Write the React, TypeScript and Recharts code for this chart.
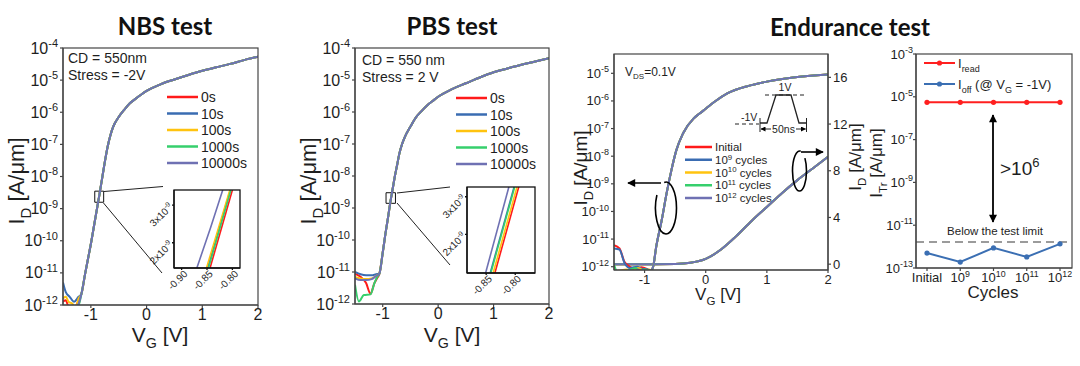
import React from "react";
import { LineChart, Line, XAxis, YAxis, ReferenceArea, ReferenceLine } from "recharts";

const FONT = "'Liberation Sans', Arial, sans-serif";
const TITLE_FONT = "Lato, 'Liberation Sans', sans-serif";
const INK = "#1e1e1e";
const FRAME = "#454545";

// ---- NBS / PBS stress: V_G [V] vs I_D [A/um] ----
const stressNames = ["0s", "10s", "100s", "1000s", "10000s"];
const stressColors = ["#ff1a1a", "#3a6cb2", "#ffc30f", "#36cf6c", "#6f71b3"];

const vgTicks = [-1, 0, 1, 2];
const mainDecades = [1e-12, 1e-11, 1e-10, 1e-9, 1e-8, 1e-7, 1e-6, 1e-5, 1e-4];

const nbsBody = [
  [-1.17, 2.2e-12], [-1.1, 1.0e-11], [-1.05, 2.8e-11], [-1.0, 7.9e-11], [-0.95, 2.5e-10],
  [-0.9, 7.9e-10], [-0.85, 2.5e-9], [-0.8, 8.3e-9], [-0.75, 2.8e-8], [-0.7, 8.3e-8],
  [-0.65, 1.9e-7], [-0.6, 3.5e-7], [-0.5, 7.1e-7], [-0.4, 1.2e-6], [-0.3, 1.9e-6],
  [-0.2, 2.6e-6], [-0.1, 3.5e-6], [0, 4.6e-6], [0.25, 7.4e-6], [0.5, 1.05e-5],
  [0.75, 1.45e-5], [1.0, 1.95e-5], [1.25, 2.5e-5], [1.5, 3.2e-5], [1.75, 4.2e-5], [2.0, 5.4e-5],
];
const nbsTails = [
  [[-1.5, 1.26e-12], [-1.45, 1.4e-12], [-1.4, 8.9e-13], [-1.3, 7.9e-13], [-1.22, 1.4e-12]],
  [[-1.5, 5.0e-12], [-1.45, 2.5e-12], [-1.38, 1.8e-12], [-1.3, 1.26e-12], [-1.22, 1.8e-12]],
  [[-1.5, 1.6e-12], [-1.45, 1.8e-12], [-1.4, 1.26e-12], [-1.33, 1.1e-12], [-1.28, 7e-13], [-1.22, 1.6e-12]],
  [[-1.5, 1.0e-12], [-1.42, 8e-13], [-1.32, 9e-13], [-1.25, 8e-13], [-1.2, 1.26e-12]],
  [[-1.5, 8e-13], [-1.4, 8e-13], [-1.3, 8e-13], [-1.22, 1.1e-12]],
];
const nbsZoomBox = [-0.93, -0.77, 1.58e-9, 3.5e-9];

const pbsBody = [
  [-1.06, 8.9e-12], [-1.0, 4.0e-11], [-0.95, 1.6e-10], [-0.9, 5.6e-10], [-0.86, 1.6e-9],
  [-0.82, 4.0e-9], [-0.78, 1.0e-8], [-0.74, 2.2e-8], [-0.7, 5.0e-8], [-0.65, 1.0e-7],
  [-0.6, 1.66e-7], [-0.5, 3.5e-7], [-0.4, 6.8e-7], [-0.3, 1.07e-6], [-0.2, 1.6e-6],
  [-0.1, 2.2e-6], [0, 3.0e-6], [0.25, 5.2e-6], [0.5, 7.9e-6], [0.75, 1.2e-5],
  [1.0, 1.74e-5], [1.25, 2.3e-5], [1.5, 3.0e-5], [1.75, 3.8e-5], [2.0, 4.8e-5],
];
const pbsTails = [
  [[-1.5, 8.9e-12], [-1.4, 7.1e-12], [-1.3, 4.5e-12], [-1.22, 2.1e-12], [-1.15, 4.5e-12], [-1.1, 6.5e-12]],
  [[-1.5, 1.0e-11], [-1.4, 8.5e-12], [-1.3, 7.9e-12], [-1.2, 7.9e-12], [-1.12, 8.5e-12]],
  [[-1.5, 7e-12], [-1.4, 6.3e-12], [-1.3, 6e-12], [-1.2, 6.3e-12], [-1.12, 7.5e-12]],
  [[-1.5, 4.0e-12], [-1.43, 1.2e-12], [-1.34, 1.9e-12], [-1.22, 2.0e-12], [-1.15, 4.5e-12], [-1.1, 7e-12]],
  [[-1.5, 6.3e-12], [-1.4, 5.6e-12], [-1.3, 5.6e-12], [-1.2, 6.0e-12], [-1.12, 7.5e-12]],
];
const pbsZoomBox = [-0.94, -0.77, 1.4e-9, 3.0e-9];

// insets (linear I_D)
const nbsInset = [
  [[-0.844, 1.33e-9], [-0.8, 3.4e-9]],
  [[-0.849, 1.33e-9], [-0.804, 3.4e-9]],
  [[-0.851, 1.33e-9], [-0.805, 3.4e-9]],
  [[-0.847, 1.33e-9], [-0.803, 3.4e-9]],
  [[-0.87, 1.33e-9], [-0.843, 2.4e-9], [-0.819, 3.4e-9]],
];
const nbsInsetX = [-0.9, -0.85, -0.8];
const pbsInset = [
  [[-0.835, 0.97e-9], [-0.794, 3.26e-9]],
  [[-0.843, 0.97e-9], [-0.802, 3.26e-9]],
  [[-0.838, 0.97e-9], [-0.797, 3.26e-9]],
  [[-0.842, 0.97e-9], [-0.801, 3.26e-9]],
  [[-0.851, 0.97e-9], [-0.811, 3.26e-9]],
];
const pbsInsetX = [-0.85, -0.8];
const insetY = [2e-9, 3e-9];

// ---- Endurance transfer curves ----
const cycleNames = ["Initial", "10^9 cycles", "10^10 cycles", "10^11 cycles", "10^12 cycles"];
const endDecades = [1e-12, 1e-11, 1e-10, 1e-9, 1e-8, 1e-7, 1e-6, 1e-5];
const endLinTicks = [0, 4, 8, 12, 16];
const endLogBody = [
  [-0.9, 7e-13], [-0.86, 1.0e-12], [-0.81, 5.2e-12], [-0.72, 4.8e-11], [-0.64, 4.5e-10],
  [-0.56, 3.2e-9], [-0.48, 1.66e-8], [-0.37, 6.8e-8], [-0.2, 2.3e-7], [-0.1, 3.5e-7],
  [0, 5.2e-7], [0.15, 9.5e-7], [0.36, 1.9e-6], [0.7, 3.5e-6], [1.0, 5.0e-6], [1.43, 7.1e-6], [2.0, 9.1e-6],
];
const endLogTails = [
  [[-1.5, 6.0e-12], [-1.41, 4.6e-12], [-1.33, 1.5e-12], [-1.24, 1.0e-12], [-1.15, 8e-13], [-1.05, 9.5e-13], [-0.95, 8e-13]],
  [[-1.5, 4.6e-12], [-1.41, 4.2e-12], [-1.33, 1.4e-12], [-1.24, 9e-13], [-1.12, 1.0e-12], [-1.05, 8.5e-13], [-0.95, 8e-13]],
  [[-1.5, 9e-13], [-1.45, 7e-13], [-1.3, 8e-13], [-1.2, 7e-13], [-1.1, 9e-13], [-1.0, 7e-13], [-0.92, 8e-13]],
  [[-1.5, 1.2e-12], [-1.45, 7e-13], [-1.3, 7e-13], [-1.15, 9e-13], [-1.08, 7e-13], [-1.0, 8e-13], [-0.92, 7.5e-13]],
  [[-1.5, 6e-13], [-1.2, 6e-13], [-1.1, 8e-13], [-1.0, 6e-13], [-0.92, 6e-13]],
];
// linear axis, uA/um
const endLinear = [
  [-1.5, 0], [-1.0, 0], [-0.5, 0.02], [-0.25, 0.12], [0, 0.45], [0.25, 1.25], [0.5, 2.4],
  [0.75, 3.7], [1.0, 4.9], [1.25, 6.1], [1.5, 7.2], [1.75, 8.2], [2.0, 9.2],
];

// ---- Endurance summary ----
const cycleTicks = ["Initial", "10^9", "10^10", "10^11", "10^12"];
const ireadVals = [5.5e-6, 5.5e-6, 5.5e-6, 5.5e-6, 5.5e-6];
const ioffVals = [5.0e-13, 1.9e-13, 8.7e-13, 3.3e-13, 1.35e-12];
const testLimit = 1.65e-12;
const sumDecades = [1e-13, 1e-11, 1e-9, 1e-7, 1e-5, 1e-3];
const RED = "#ff1f1f";
const BLUE = "#3b6fb3";

type Pt = { v: number; i: number };
type Box = { x: number; y: number; w: number; h: number };
const toPts = (a: number[][]): Pt[] => a.map(([v, i]) => ({ v, i }));

const nbsSeries = nbsTails.map((t) => toPts([...t, ...nbsBody]));
const pbsSeries = pbsTails.map((t) => toPts([...t, ...pbsBody]));
const endSeries = endLogTails.map((t) => toPts([...t, ...endLogBody]));
const endLinPts = toPts(endLinear);
const summaryRows = cycleTicks.map((c, k) => ({ cycle: c, iread: ireadVals[k], ioff: ioffVals[k] }));

// plot rectangles on the page
const NBS_BOX = { x: 63, y: 48, w: 195, h: 257 };
const PBS_BOX = { x: 355, y: 48, w: 194, h: 256 };
const NBS_INSET = { x: 174, y: 190, w: 66, h: 78 };
const PBS_INSET = { x: 467, y: 187, w: 68, h: 86 };
const END_BOX = { x: 614, y: 54, w: 214, h: 216 };
const SUM_BOX = { x: 916, y: 54, w: 156, h: 214 };

// "10^9 cycles" -> tspans with superscript
function supSpans(label: string, fs: number) {
  const m = label.match(/^(\d+)\^(-?\d+)(.*)$/);
  if (!m) return [<tspan key="a">{label}</tspan>];
  return [
    <tspan key="a">{m[1]}</tspan>,
    <tspan key="b" dy={-fs * 0.38} fontSize={fs * 0.68}>{m[2]}</tspan>,
    <tspan key="c" dy={fs * 0.38}>{m[3]}</tspan>,
  ];
}

const PowTick = (p: any) => {
  const e = Math.round(Math.log10(p.payload.value));
  return (
    <text x={p.x} y={p.y} dy="0.35em" textAnchor="end" fontSize={p.fs} fill={INK} fontFamily={FONT}>
      10<tspan dy={-p.fs * 0.42} fontSize={p.sup}>{e}</tspan>
    </text>
  );
};

const InsetXTick = (p: any) => (
  <text x={p.x + 4} y={p.y + 2} transform={`rotate(-45 ${p.x + 4} ${p.y + 2})`} textAnchor="end" dy="0.35em"
    fontSize={10} fill={INK} fontFamily={FONT}>
    {p.payload.value.toFixed(2)}
  </text>
);

const InsetYTick = (p: any) => {
  const [mant, ex] = p.payload.value.toExponential().split("e");
  return (
    <text x={p.x} y={p.y} transform={`rotate(-45 ${p.x} ${p.y})`} textAnchor="end" dy="0.35em"
      fontSize={10} fill={INK} fontFamily={FONT}>
      {mant}x10<tspan dy={-4} fontSize={7}>{Number(ex)}</tspan>
    </text>
  );
};

const CycleTick = (p: any) => (
  <text x={p.x} y={p.y} dy="0.75em" textAnchor="middle" fontSize={13} fill={INK} fontFamily={FONT}>
    {supSpans(p.payload.value, 13)}
  </text>
);

function TransferPanel({ plot, series, zoom }: { plot: Box; series: Pt[][]; zoom: number[] }) {
  const L = 60, T = 10, R = 10, B = 40;
  return (
    <div style={{ position: "absolute", left: plot.x - L, top: plot.y - T }}>
      <LineChart width={L + plot.w + R} height={T + plot.h + B} margin={{ top: T, right: R, bottom: 0, left: 0 }}>
        <XAxis dataKey="v" type="number" domain={[-1.5, 2]} ticks={vgTicks} allowDataOverflow height={B} interval={0}
          stroke={FRAME} strokeWidth={1.2} tickSize={3} tickMargin={1} tick={{ fontSize: 16, fill: INK, fontFamily: FONT }} />
        <YAxis type="number" scale="log" domain={[1e-12, 1e-4]} ticks={mainDecades} allowDataOverflow width={L} interval={0}
          stroke={FRAME} strokeWidth={1.2} tickSize={3} tickMargin={2} tick={<PowTick fs={16} sup={11} />} />
        <ReferenceArea x1={zoom[0]} x2={zoom[1]} y1={zoom[2]} y2={zoom[3]} fill="none" fillOpacity={0} stroke="#111" strokeWidth={1} />
        {series.map((d, k) => (
          <Line key={k} data={d} dataKey="i" type="monotone" stroke={stressColors[k]} strokeWidth={2}
            dot={false} isAnimationActive={false} />
        ))}
      </LineChart>
    </div>
  );
}

function InsetPanel({ plot, series, xDomain, xTicks, yDomain }: { plot: Box; series: number[][][]; xDomain: number[]; xTicks: number[]; yDomain: number[] }) {
  const L = 32, T = 2, R = 4, B = 32;
  return (
    <div style={{ position: "absolute", left: plot.x - L, top: plot.y - T }}>
      <LineChart width={L + plot.w + R} height={T + plot.h + B} margin={{ top: T, right: R, bottom: 0, left: 0 }}>
        <XAxis dataKey="v" type="number" domain={xDomain} ticks={xTicks} allowDataOverflow height={B} interval={0}
          stroke="#111" strokeWidth={1.3} tickSize={2} tickMargin={0} tick={<InsetXTick />} />
        <YAxis type="number" domain={yDomain} ticks={insetY} allowDataOverflow width={L} interval={0}
          stroke="#111" strokeWidth={1.3} tickSize={2} tickMargin={1} tick={<InsetYTick />} />
        {series.map((d, k) => (
          <Line key={k} data={toPts(d)} dataKey="i" type="linear" stroke={stressColors[k]} strokeWidth={1.6}
            dot={false} isAnimationActive={false} />
        ))}
      </LineChart>
    </div>
  );
}

function EndurancePanel() {
  const plot = END_BOX;
  const L = 50, T = 10, R = 30, B = 30;
  return (
    <div style={{ position: "absolute", left: plot.x - L, top: plot.y - T }}>
      <LineChart width={L + plot.w + R} height={T + plot.h + B} margin={{ top: T, right: 0, bottom: 0, left: 0 }}>
        <XAxis dataKey="v" type="number" domain={[-1.5, 2]} ticks={vgTicks} allowDataOverflow height={B} interval={0}
          stroke={FRAME} strokeWidth={1.2} tickSize={3} tickMargin={2} tick={{ fontSize: 13, fill: INK, fontFamily: FONT }} />
        <YAxis yAxisId="log" type="number" scale="log" domain={[7.6e-13, 5e-5]} ticks={endDecades} allowDataOverflow width={L} interval={0}
          stroke={FRAME} strokeWidth={1.2} tickSize={3} tickMargin={2} tick={<PowTick fs={13} sup={9} />} />
        <YAxis yAxisId="lin" orientation="right" type="number" domain={[-0.5, 18]} ticks={endLinTicks} allowDataOverflow width={R} interval={0}
          stroke={FRAME} strokeWidth={1.2} tickSize={3} tickMargin={2} tick={{ fontSize: 13, fill: INK, fontFamily: FONT, textAnchor: "start" }} />
        {endSeries.map((d, k) => (
          <Line key={"lin" + k} yAxisId="lin" data={endLinPts} dataKey="i" type="monotone" stroke={stressColors[k]}
            strokeWidth={2} dot={false} isAnimationActive={false} />
        ))}
        {endSeries.map((d, k) => (
          <Line key={"log" + k} yAxisId="log" data={d} dataKey="i" type="monotone" stroke={stressColors[k]}
            strokeWidth={2} dot={false} isAnimationActive={false} />
        ))}
      </LineChart>
    </div>
  );
}

function SummaryPanel() {
  const plot = SUM_BOX;
  const L = 40, T = 10, R = 6, B = 30;
  return (
    <div style={{ position: "absolute", left: plot.x - L, top: plot.y - T }}>
      <LineChart data={summaryRows} width={L + plot.w + R} height={T + plot.h + B} margin={{ top: T, right: R, bottom: 0, left: 0 }}>
        <XAxis dataKey="cycle" type="category" padding={{ left: 11, right: 12 }} interval={0} height={B}
          stroke={FRAME} strokeWidth={1.2} tickSize={3} tickMargin={1} tick={<CycleTick />} />
        <YAxis type="number" scale="log" domain={[1e-13, 1e-3]} ticks={sumDecades} allowDataOverflow width={L} interval={0}
          stroke={FRAME} strokeWidth={1.2} tickSize={3} tickMargin={0} tick={<PowTick fs={13} sup={9} />} />
        <ReferenceLine y={testLimit} stroke="#9b9b9b" strokeWidth={2} strokeDasharray="8 5" />
        <Line dataKey="iread" type="linear" stroke={RED} strokeWidth={2} isAnimationActive={false}
          dot={{ r: 2.6, fill: RED, stroke: RED, strokeWidth: 0 }} />
        <Line dataKey="ioff" type="linear" stroke={BLUE} strokeWidth={2} isAnimationActive={false}
          dot={{ r: 2.6, fill: BLUE, stroke: BLUE, strokeWidth: 0 }} />
      </LineChart>
    </div>
  );
}

function AxisLabel({ x, y, main, sub, rest, fs, rotate = false }: { x: number; y: number; main: string; sub: string; rest: string; fs: number; rotate?: boolean }) {
  return (
    <text x={0} y={0} transform={`translate(${x} ${y})${rotate ? " rotate(-90)" : ""}`} textAnchor="middle"
      fontSize={fs} fill={INK} fontFamily={FONT}>
      {main}<tspan dy={fs * 0.3} fontSize={fs * 0.68}>{sub}</tspan><tspan dy={-fs * 0.3}>{rest}</tspan>
    </text>
  );
}

function Overlay() {
  const legendRows = (x0: number, y0: number, step: number, len: number, fs: number, names: string[]) =>
    names.map((n, k) => (
      <g key={n}>
        <line x1={x0} x2={x0 + len} y1={y0 + k * step} y2={y0 + k * step} stroke={stressColors[k]} strokeWidth={2.5} />
        <text x={x0 + len + 3} y={y0 + k * step + fs * 0.36} fontSize={fs} fill={INK} fontFamily={FONT}>
          {supSpans(n, fs)}
        </text>
      </g>
    ));
  const frames = [NBS_BOX, PBS_BOX, END_BOX, SUM_BOX];
  return (
    <svg width={1080} height={366} style={{ position: "absolute", left: 0, top: 0, pointerEvents: "none" }}>
      <defs>
        <marker id="ah" viewBox="0 0 10 10" refX="9" refY="5" markerWidth="9" markerHeight="8"
          markerUnits="userSpaceOnUse" orient="auto-start-reverse">
          <path d="M0,0 L10,5 L0,10 z" fill="#000" />
        </marker>
        <marker id="ahs" viewBox="0 0 10 10" refX="9" refY="5" markerWidth="5" markerHeight="5"
          markerUnits="userSpaceOnUse" orient="auto-start-reverse">
          <path d="M0,0 L10,5 L0,10 z" fill="#000" />
        </marker>
      </defs>

      {/* plot frames */}
      {frames.map((b, k) => (
        <rect key={k} x={b.x} y={b.y} width={b.w} height={b.h} fill="none" stroke={FRAME} strokeWidth={1.2} />
      ))}
      {[NBS_INSET, PBS_INSET].map((b, k) => (
        <rect key={"i" + k} x={b.x} y={b.y} width={b.w} height={b.h} fill="none" stroke="#111" strokeWidth={1.3} />
      ))}

      {/* titles */}
      <g fontFamily={TITLE_FONT} fontWeight={700} fontSize={24} fill="#111" textAnchor="middle">
        <text x={165} y={35}>NBS test</text>
        <text x={452} y={35}>PBS test</text>
        <text x={850} y={36}>Endurance test</text>
      </g>

      {/* axis labels */}
      <AxisLabel x={24} y={181} main="I" sub="D" rest=" [A/μm]" fs={22} rotate />
      <AxisLabel x={160} y={342} main="V" sub="G" rest=" [V]" fs={21} />
      <AxisLabel x={316} y={181} main="I" sub="D" rest=" [A/μm]" fs={22} rotate />
      <AxisLabel x={452} y={342} main="V" sub="G" rest=" [V]" fs={21} />
      <AxisLabel x={587} y={168} main="I" sub="D" rest=" [A/μm]" fs={19} rotate />
      <AxisLabel x={718} y={300} main="V" sub="G" rest=" [V]" fs={17} />
      <AxisLabel x={861} y={157} main="I" sub="D" rest=" [A/μm]" fs={17} rotate />
      <AxisLabel x={882} y={163} main="I" sub="Tr" rest=" [A/μm]" fs={17} rotate />
      <text x={993} y={298} textAnchor="middle" fontSize={17} fill={INK} fontFamily={FONT}>Cycles</text>

      {/* NBS / PBS notes */}
      <g fontSize={14} fill={INK} fontFamily={FONT}>
        <text x={68} y={63}>CD = 550nm</text>
        <text x={68} y={80}>Stress = -2V</text>
        <text x={362} y={65}>CD = 550 nm</text>
        <text x={362} y={82}>Stress = 2 V</text>
      </g>
      {legendRows(167, 97, 16.5, 31, 14, stressNames)}
      {legendRows(456, 98, 16.5, 31, 14, stressNames)}

      {/* zoom leader lines */}
      <g stroke="#222" strokeWidth={1}>
        <line x1={104} y1={191.5} x2={163} y2={186.5} />
        <line x1={103.5} y1={203} x2={162} y2={273} />
        <line x1={397} y1={193} x2={450} y2={187} />
        <line x1={397} y1={203} x2={450} y2={265} />
      </g>

      {/* endurance curves notes */}
      <text x={625} y={76} fontSize={12} fill={INK} fontFamily={FONT}>
        V<tspan dy={3} fontSize={8}>DS</tspan><tspan dy={-3}>=0.1V</tspan>
      </text>
      {legendRows(685, 147, 12.75, 27, 11.5, cycleNames)}
      <g stroke="#000" strokeWidth={1.6} fill="none">
        <path d="M 664.2 182.4 A 10.5 26 0 0 1 676.5 208 A 10.5 26 0 0 1 666 234 A 10.5 26 0 0 1 656.9 195" />
        <line x1={661} y1={183} x2={628} y2={183} markerEnd="url(#ah)" />
        <path d="M 800.7 151.3 A 7 20 0 0 0 792.5 171 A 7 20 0 0 0 799.5 191 A 7 20 0 0 0 806.5 171 A 7 20 0 0 0 804.9 158.1" />
        <line x1={801} y1={152} x2={823} y2={152} markerEnd="url(#ah)" />
      </g>
      {/* pulse sketch */}
      <g stroke="#222" strokeWidth={1} fill="none">
        <line x1={765} y1={95} x2={805} y2={95} strokeDasharray="4 3" />
        <line x1={735} y1={124} x2={759} y2={124} strokeDasharray="4 3" />
        <polyline points="760,123 767,123 776,95 791,95 799,123 806,123" strokeWidth={1.3} />
        <line x1={760} y1={118} x2={760} y2={132} />
        <line x1={806.5} y1={118} x2={806.5} y2={132} />
        <line x1={771} y1={129} x2={761} y2={129} markerEnd="url(#ahs)" />
        <line x1={796} y1={129} x2={805.5} y2={129} markerEnd="url(#ahs)" />
      </g>
      <g fontSize={10.5} fill={INK} fontFamily={FONT}>
        <text x={785} y={91} textAnchor="middle">1V</text>
        <text x={741} y={121}>-1V</text>
        <text x={783.5} y={133} textAnchor="middle">50ns</text>
      </g>

      {/* endurance summary notes */}
      <line x1={924} x2={955} y1={63} y2={63} stroke={RED} strokeWidth={2} />
      <circle cx={939.5} cy={63} r={2.6} fill={RED} />
      <text x={958} y={68} fontSize={13} fill={INK} fontFamily={FONT}>
        I<tspan dy={4} fontSize={9}>read</tspan>
      </text>
      <line x1={924} x2={955} y1={84} y2={84} stroke={BLUE} strokeWidth={2} />
      <circle cx={939.5} cy={84} r={2.6} fill={BLUE} />
      <text x={958} y={89} fontSize={13} fill={INK} fontFamily={FONT}>
        I<tspan dy={4} fontSize={9}>off</tspan><tspan dy={-4}> (@ V</tspan><tspan dy={4} fontSize={9}>G</tspan><tspan dy={-4}> = -1V)</tspan>
      </text>
      <line x1={993} y1={115} x2={993} y2={222} stroke="#000" strokeWidth={1.8} markerStart="url(#ah)" markerEnd="url(#ah)" />
      <text x={1000} y={175} fontSize={19} fill={INK} fontFamily={FONT}>
        &gt;10<tspan dy={-8} fontSize={13}>6</tspan>
      </text>
      <text x={995} y={235} textAnchor="middle" fontSize={11.5} fill={INK} fontFamily={FONT}>Below the test limit</text>
    </svg>
  );
}

export default function App() {
  return (
    <div style={{ position: "absolute", left: 0, top: 0, width: 1080, height: 366, background: "#fff", overflow: "hidden", fontFamily: FONT }}>
      <TransferPanel plot={NBS_BOX} series={nbsSeries} zoom={nbsZoomBox} />
      <TransferPanel plot={PBS_BOX} series={pbsSeries} zoom={pbsZoomBox} />
      <InsetPanel plot={NBS_INSET} series={nbsInset} xDomain={[-0.915, -0.785]} xTicks={nbsInsetX} yDomain={[1.33e-9, 3.4e-9]} />
      <InsetPanel plot={PBS_INSET} series={pbsInset} xDomain={[-0.883, -0.766]} xTicks={pbsInsetX} yDomain={[0.97e-9, 3.26e-9]} />
      <EndurancePanel />
      <SummaryPanel />
      <Overlay />
    </div>
  );
}
